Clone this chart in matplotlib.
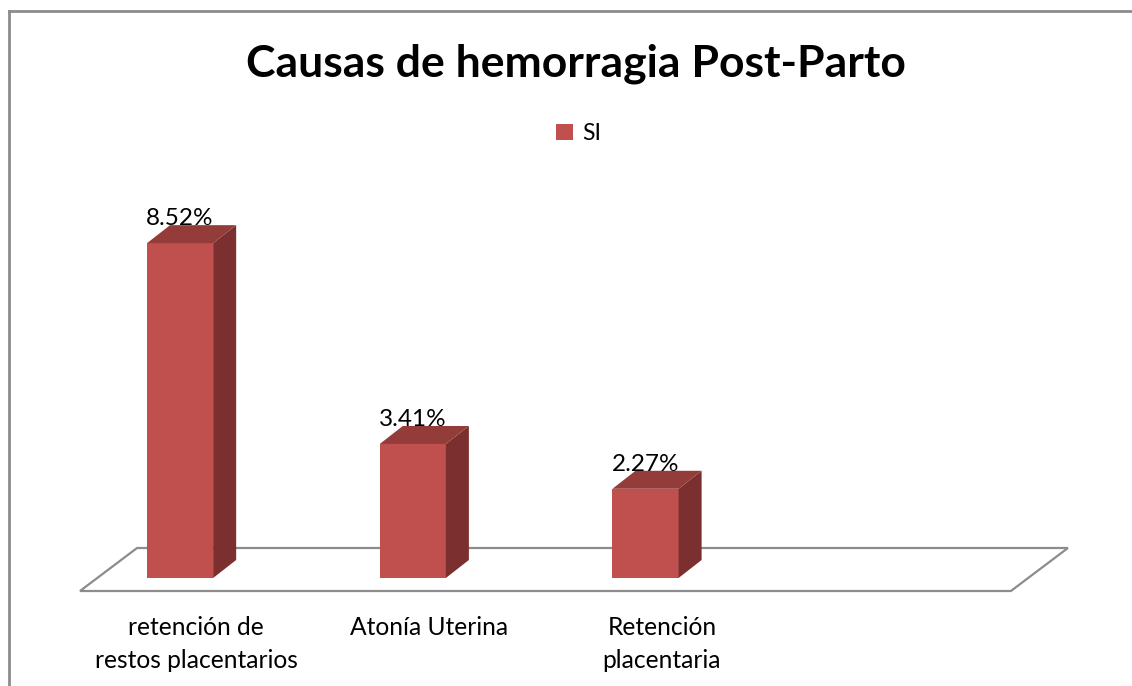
import matplotlib
matplotlib.use("Agg")
import matplotlib.pyplot as plt
import numpy as np
from matplotlib.patches import Polygon, Patch
from matplotlib.lines import Line2D

plt.rcParams["font.family"] = ["Lato", "DejaVu Sans"]

# data
categories = ["retención de\nrestos placentarios", "Atonía Uterina", "Retención\nplacentaria", ""]
values = [8.52, 3.41, 2.27, np.nan]
series_name = "SI"
title = "Causas de hemorragia Post-Parto"

# style
FRONT = "#C0504D"
SIDE = "#7B2F2E"
TOP = "#943C3A"
FLOOR = "#8C8C8C"
BAR_OFF = 0.43      # bar centre inside a category slot
BAR_W = 0.284
DX, DY = 0.099, 0.458            # bar depth (oblique)
FLOOR_FRONT = -0.331
FLOOR_DX, FLOOR_DY = 0.245, 1.094

fig = plt.figure(figsize=(11.32, 6.86), dpi=100)
ax = fig.add_axes([0.0604, 0.1288, 0.8943, 0.5557])
ax.set_xlim(-0.05, 4.3)
ax.set_ylim(-0.5, 9.2)

n = len(categories)
x = np.arange(n)

# floor
floor = Polygon([(0, FLOOR_FRONT), (n, FLOOR_FRONT),
                 (n + FLOOR_DX, FLOOR_FRONT + FLOOR_DY),
                 (FLOOR_DX, FLOOR_FRONT + FLOOR_DY)],
                closed=True, fill=False, edgecolor=FLOOR, lw=1.6, zorder=1)
ax.add_patch(floor)

# front faces
ax.bar(x + BAR_OFF, values, width=BAR_W, color=FRONT, zorder=3, label=series_name)

for xi, v in zip(x, values):
    if np.isnan(v):
        continue
    x0 = xi + BAR_OFF - BAR_W / 2
    x1 = xi + BAR_OFF + BAR_W / 2
    side = Polygon([(x1, 0), (x1 + DX, DY), (x1 + DX, v + DY), (x1, v)],
                   closed=True, facecolor=SIDE, edgecolor="none", zorder=3)
    top = Polygon([(x0, v), (x0 + DX, v + DY), (x1 + DX, v + DY), (x1, v)],
                  closed=True, facecolor=TOP, edgecolor="none", zorder=3)
    ax.add_patch(side)
    ax.add_patch(top)
    ax.text(xi + BAR_OFF, v + DY, f"{v:.2f}%", ha="center", va="baseline",
            fontsize=17.5, color="black", zorder=4)

ax.set_xticks(x + 0.5)
ax.set_xticklabels(categories, fontsize=17.7, linespacing=1.55)
ax.tick_params(axis="x", length=0, pad=13)
ax.set_yticks([])
for s in ax.spines.values():
    s.set_visible(False)

fig.text(576 / 1132, 1 - 64 / 686, title, ha="center", va="center",
         fontsize=32, fontweight="bold")

fig.legend(handles=[Patch(facecolor=FRONT, label=series_name)], loc="center",
           bbox_to_anchor=(0.511, 0.8054), frameon=False, fontsize=16.5,
           handlelength=0.75, handleheight=0.75, handletextpad=0.4)

# chart border (top and left visible)
fig.add_artist(Line2D([9 / 1132, 1], [1 - 10.5 / 686] * 2, color="#8C8C8C", lw=2))
fig.add_artist(Line2D([9 / 1132] * 2, [0, 1 - 10.5 / 686], color="#8C8C8C", lw=2))

fig.savefig("out.png", dpi=100)
